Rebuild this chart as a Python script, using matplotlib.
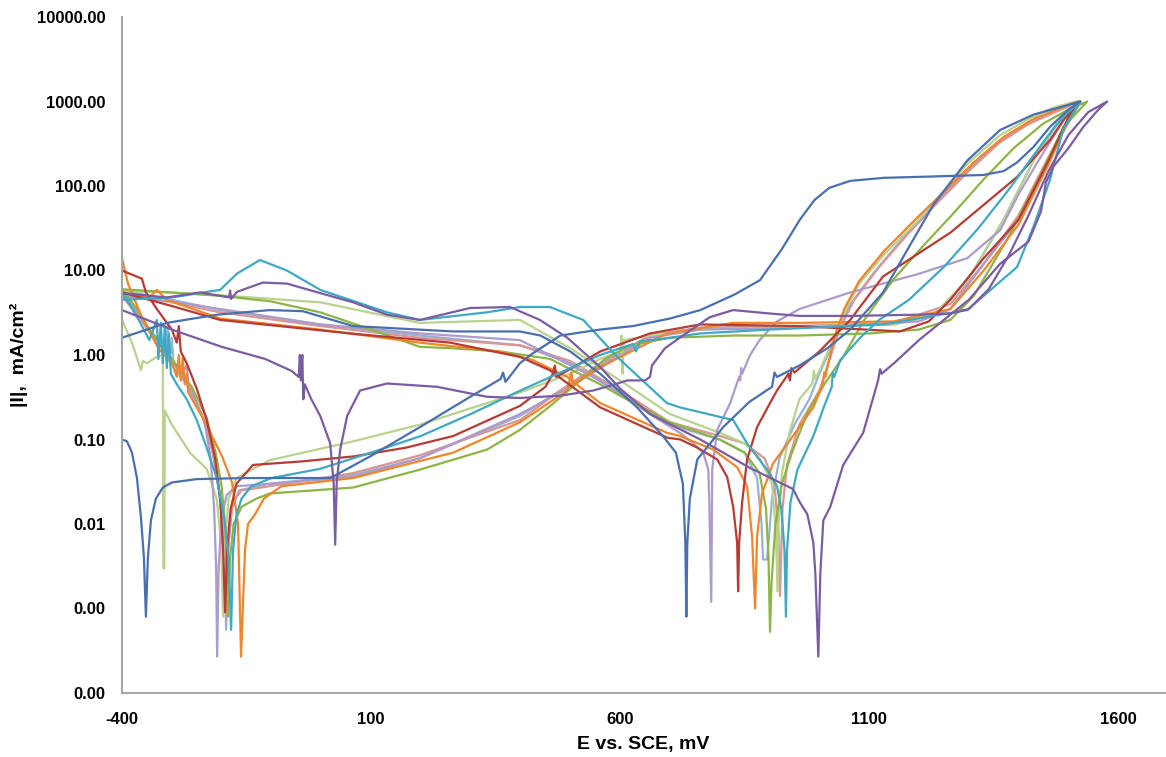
import matplotlib
matplotlib.use("Agg")
import matplotlib.pyplot as plt
from matplotlib.ticker import FixedLocator, FuncFormatter

plt.rcParams['font.family'] = ['Liberation Sans', 'DejaVu Sans']
plt.rcParams['axes.unicode_minus'] = False

# cyclic polarisation scans: (E mV vs SCE, |I| mA/cm2), forward then reverse
blue = [(-400, 0.1), (-390, 0.095), (-380, 0.07), (-370, 0.035), (-362, 0.012), (-356, 0.004), (-352, 0.0008),
        (-348, 0.004), (-342, 0.011), (-332, 0.02), (-318, 0.027), (-300, 0.031), (-250, 0.034), (-150, 0.035),
        (-50, 0.035), (18, 0.035), (98, 0.063), (198, 0.14), (299, 0.32), (360, 0.52), (365, 0.62), (370, 0.48),
        (399, 0.8), (425, 1.05), (480, 1.7), (560, 2.0), (626, 2.2), (700, 2.7), (761, 3.4), (830, 5.2),
        (881, 7.7), (925, 18), (961, 40), (990, 68), (1020, 95), (1062, 115), (1130, 125), (1196, 128),
        (1329, 135), (1370, 150), (1397, 190), (1430, 290), (1463, 500), (1500, 800), (1524, 1000),
        (1497, 900), (1430, 700), (1363, 460), (1297, 200), (1229, 60), (1170, 15), (1128, 5.5), (1062, 2.0),
        (1016, 1.2), (960, 0.75), (915, 0.55), (910, 0.62), (905, 0.42), (860, 0.28), (807, 0.14), (755, 0.058),
        (740, 0.02), (735, 0.006), (733, 0.0008), (731, 0.006), (726, 0.03), (712, 0.07), (686, 0.11),
        (634, 0.24), (560, 0.6), (500, 1.1), (440, 1.7), (399, 1.9), (265, 1.9), (64, 2.2), (-37, 3.3),
        (-103, 3.4), (-209, 3.0), (-310, 2.4), (-400, 1.6)]

purple = [(-400, 3.4), (-300, 2.0), (-200, 1.25), (-113, 0.9), (-60, 0.65), (-45, 0.55), (-43, 1.0), (-41, 0.5),
          (-38, 1.0), (-36, 0.3), (-33, 0.45), (-20, 0.3), (-2, 0.19), (18, 0.09), (25, 0.03), (28, 0.0057),
          (31, 0.03), (38, 0.076), (52, 0.19), (78, 0.38), (132, 0.46), (233, 0.42), (333, 0.32), (399, 0.31),
          (480, 0.33), (546, 0.38), (590, 0.45), (614, 0.5), (650, 0.5), (660, 0.55), (664, 0.75), (690, 1.2),
          (726, 1.7), (780, 2.8), (827, 3.4), (900, 3.1), (961, 2.9), (1062, 2.9), (1196, 3.0), (1263, 3.1),
          (1300, 3.5), (1340, 6), (1380, 15), (1420, 45), (1460, 150), (1500, 400), (1540, 750), (1578, 1000),
          (1560, 800), (1530, 500), (1500, 280), (1470, 170), (1455, 110), (1445, 50), (1420, 22), (1363, 12),
          (1300, 4.5), (1263, 3.0), (1200, 1.5), (1150, 0.8), (1125, 0.6), (1122, 0.68), (1118, 0.5),
          (1088, 0.12), (1048, 0.05), (1022, 0.016), (1008, 0.011), (1002, 0.0026), (998, 0.00027),
          (992, 0.0026), (988, 0.006), (976, 0.013), (961, 0.018), (947, 0.026), (861, 0.046), (761, 0.1),
          (660, 0.2), (600, 0.4), (560, 0.72), (494, 1.6), (439, 2.6), (379, 3.7), (299, 3.6), (198, 2.6),
          (132, 3.0), (64, 4.2), (-2, 5.4), (-69, 7.0), (-117, 7.2), (-169, 5.6), (-181, 4.6), (-183, 5.8),
          (-185, 4.8), (-243, 5.5), (-310, 4.8), (-400, 5.4)]

teal = [(-400, 5.5), (-385, 4.0), (-365, 2.5), (-345, 1.5), (-330, 2.6), (-327, 0.9), (-322, 2.4), (-318, 0.8),
        (-314, 2.2), (-310, 0.7), (-306, 1.8), (-302, 0.6), (-290, 0.45), (-270, 0.3), (-250, 0.17), (-230, 0.08),
        (-210, 0.035), (-195, 0.012), (-186, 0.004), (-181, 0.00056), (-177, 0.005), (-170, 0.013), (-160, 0.02),
        (-140, 0.028), (-100, 0.035), (-2, 0.045), (100, 0.07), (200, 0.11), (300, 0.2), (400, 0.38), (480, 0.62),
        (560, 1.0), (626, 1.35), (632, 1.1), (640, 1.45), (700, 1.6), (761, 1.8), (900, 2.0), (1128, 2.3),
        (1297, 3.4), (1397, 11), (1430, 33), (1463, 118), (1489, 460), (1524, 1000),
        (1500, 750), (1470, 480), (1430, 230), (1380, 90), (1320, 32), (1250, 11), (1180, 4.5), (1120, 2.6),
        (1082, 1.6), (1042, 0.87), (1030, 0.55), (1027, 0.62), (1025, 0.42), (1010, 0.25), (988, 0.11),
        (956, 0.044), (942, 0.018), (935, 0.0047), (933, 0.0008), (930, 0.005), (924, 0.015), (915, 0.028),
        (895, 0.044), (855, 0.09), (827, 0.17), (720, 0.24), (694, 0.27), (594, 0.95), (526, 2.6), (459, 3.7),
        (399, 3.7), (333, 3.2), (198, 2.6), (132, 3.2), (-2, 5.9), (-69, 10), (-123, 13.3), (-169, 9.2),
        (-203, 5.9), (-300, 4.8), (-400, 4.5)]

red = [(-400, 10), (-360, 8.0), (-352, 5.5), (-330, 3.5), (-300, 2.0), (-290, 1.4), (-286, 2.2), (-282, 1.1),
       (-270, 0.8), (-250, 0.4), (-230, 0.17), (-213, 0.06), (-203, 0.02), (-197, 0.005), (-193, 0.0009),
       (-189, 0.005), (-182, 0.015), (-170, 0.03), (-137, 0.05), (-40, 0.055), (64, 0.063), (170, 0.08),
       (265, 0.11), (399, 0.25), (450, 0.42), (465, 0.6), (469, 0.75), (472, 0.55), (520, 0.8), (560, 1.1),
       (660, 1.8), (761, 2.3), (961, 2.2), (1162, 1.9), (1220, 2.5), (1263, 4.5), (1330, 14), (1400, 40),
       (1460, 200), (1500, 650), (1520, 1000),
       (1490, 600), (1463, 350), (1397, 128), (1263, 28), (1128, 8.5), (1062, 2.6), (1000, 1.1), (950, 0.62),
       (944, 0.7), (941, 0.5), (938, 0.6), (915, 0.38), (901, 0.27), (875, 0.14), (855, 0.058), (845, 0.018),
       (839, 0.006), (837, 0.0016), (835, 0.006), (827, 0.016), (815, 0.036), (795, 0.058), (755, 0.08),
       (721, 0.1), (695, 0.105), (560, 0.24), (459, 0.66), (399, 0.95), (259, 1.4), (58, 1.8), (-203, 2.6),
       (-300, 3.8), (-400, 5.5)]

orange = [(-400, 14), (-388, 7), (-360, 2.8), (-327, 1.2), (-300, 0.8), (-290, 0.55), (-286, 1.0), (-282, 0.5),
          (-278, 0.95), (-274, 0.45), (-270, 0.6), (-267, 0.36), (-233, 0.16), (-199, 0.063), (-179, 0.031),
          (-167, 0.01), (-161, 0.00027), (-153, 0.005), (-147, 0.01), (-133, 0.013), (-115, 0.02), (-80, 0.028),
          (64, 0.035), (265, 0.07), (399, 0.16), (494, 0.38), (502, 0.62), (506, 0.45), (560, 0.72), (694, 1.8),
          (827, 2.4), (961, 2.4), (1150, 2.5), (1263, 3.5), (1330, 10), (1400, 35), (1460, 180), (1500, 600),
          (1520, 1000),
          (1480, 820), (1430, 620), (1370, 380), (1310, 190), (1250, 85), (1196, 42), (1130, 17), (1080, 7.5),
          (1050, 3.5), (1030, 1.6), (1018, 0.8), (1012, 0.55), (1010, 0.62), (1007, 0.45), (988, 0.24),
          (956, 0.13), (907, 0.052), (885, 0.023), (875, 0.0071), (871, 0.001), (865, 0.007), (855, 0.028),
          (835, 0.047), (787, 0.076), (720, 0.11), (694, 0.12), (560, 0.27), (494, 0.55), (425, 0.87),
          (359, 1.1), (198, 1.4), (-2, 2.0), (-203, 2.7), (-310, 4.5), (-330, 5.9), (-345, 4.8), (-400, 5.5)]

green = [(-400, 6), (-370, 3.5), (-340, 1.8), (-300, 0.9), (-260, 0.42), (-230, 0.18), (-212, 0.07), (-200, 0.028),
         (-192, 0.008), (-187, 0.0008), (-183, 0.004), (-176, 0.01), (-160, 0.016), (-130, 0.02), (-103, 0.023),
         (64, 0.027), (198, 0.044), (333, 0.076), (399, 0.13), (460, 0.25), (520, 0.5), (570, 0.9), (620, 1.3),
         (700, 1.6), (827, 1.7), (961, 1.7), (1100, 1.8), (1200, 2.0), (1263, 2.6), (1310, 5), (1380, 25),
         (1440, 120), (1490, 500), (1538, 1000),
         (1500, 800), (1450, 550), (1390, 280), (1330, 120), (1270, 48), (1210, 20), (1150, 8), (1090, 2.6),
         (1050, 1.0), (1010, 0.45), (975, 0.2), (945, 0.07), (925, 0.03), (912, 0.01), (904, 0.002),
         (901, 0.00053), (898, 0.004), (893, 0.015), (880, 0.04), (850, 0.07), (800, 0.1), (700, 0.16),
         (600, 0.33), (560, 0.45), (459, 0.9), (359, 1.1), (265, 1.2), (198, 1.25), (100, 2.0), (-2, 3.2),
         (-100, 4.3), (-200, 5.0), (-300, 5.5), (-400, 6.0)]

light_green = [(-400, 2.6), (-380, 1.4), (-362, 0.66), (-358, 0.85), (-350, 0.8), (-330, 0.95), (-318, 1.0),
               (-317, 0.003), (-315, 0.003), (-314, 0.22), (-300, 0.15), (-263, 0.069), (-230, 0.045),
               (-210, 0.02), (-201, 0.006), (-197, 0.0008), (-193, 0.006), (-186, 0.02), (-170, 0.035),
               (-103, 0.057), (64, 0.095), (198, 0.15), (399, 0.36), (500, 0.6), (560, 0.9), (600, 1.1),
               (603, 1.7), (605, 0.6), (607, 1.5), (660, 1.7), (761, 2.0), (1000, 2.2), (1150, 2.3), (1230, 3.0),
               (1300, 8), (1370, 40), (1430, 200), (1480, 600), (1515, 1000),
               (1470, 850), (1420, 620), (1363, 400), (1300, 190), (1240, 75), (1196, 38), (1128, 15),
               (1080, 7), (1050, 3.2), (1025, 1.4), (1005, 0.75), (992, 0.52), (989, 0.65), (986, 0.46),
               (960, 0.3), (940, 0.12), (925, 0.04), (918, 0.01), (916, 0.0016), (913, 0.008), (905, 0.03),
               (880, 0.06), (850, 0.09), (800, 0.12), (700, 0.2), (600, 0.5), (500, 1.2), (399, 2.6),
               (198, 2.4), (-2, 4.2), (-203, 5.1), (-310, 5.5), (-400, 5.7)]

lavender = [(-400, 5.5), (-370, 3.2), (-340, 1.8), (-300, 0.9), (-280, 0.6), (-270, 0.75), (-266, 0.4),
            (-260, 0.35), (-235, 0.17), (-222, 0.06), (-215, 0.015), (-211, 0.003), (-209, 0.00027),
            (-206, 0.003), (-200, 0.012), (-190, 0.022), (-170, 0.028), (-100, 0.03), (64, 0.036), (198, 0.06),
            (399, 0.2), (500, 0.42), (560, 0.7), (660, 1.6), (761, 2.0), (961, 2.1), (1100, 2.3), (1200, 2.5),
            (1263, 3.5), (1330, 12), (1400, 40), (1460, 200), (1500, 600), (1520, 1000),
            (1490, 600), (1440, 200), (1400, 80), (1363, 30), (1297, 14), (1196, 9), (1062, 5.5), (960, 3.5),
            (915, 2.5), (880, 1.5), (861, 1.0), (845, 0.6), (843, 0.7), (841, 0.5), (839, 0.55), (821, 0.27),
            (795, 0.13), (785, 0.044), (783, 0.0012), (779, 0.02), (777, 0.044), (767, 0.07), (747, 0.09),
            (720, 0.12), (660, 0.2), (560, 0.5), (459, 1.0), (399, 1.5), (198, 1.8), (-2, 2.3), (-203, 3.5),
            (-300, 4.3), (-400, 5.0)]

pink = [(-400, 5.0), (-370, 3.0), (-340, 1.7), (-300, 0.85), (-260, 0.38), (-232, 0.15), (-215, 0.06),
        (-203, 0.02), (-195, 0.006), (-190, 0.0008), (-186, 0.006), (-178, 0.018), (-160, 0.025), (-103, 0.028),
        (64, 0.04), (198, 0.065), (399, 0.17), (480, 0.38), (560, 0.8), (660, 1.7), (761, 2.1), (961, 2.2),
        (1150, 2.4), (1263, 4), (1330, 12), (1400, 45), (1460, 220), (1510, 700), (1525, 1000),
        (1480, 780), (1420, 540), (1360, 320), (1300, 150), (1240, 66), (1180, 28), (1120, 11), (1070, 4.5),
        (1040, 2.0), (1015, 0.7), (1000, 0.38), (960, 0.15), (935, 0.05), (926, 0.015), (921, 0.0014),
        (918, 0.008), (910, 0.03), (890, 0.06), (850, 0.09), (800, 0.11), (700, 0.16), (600, 0.38),
        (500, 0.85), (400, 1.3), (198, 1.6), (-2, 2.2), (-203, 3.2), (-300, 4.2), (-400, 5.2)]

light_blue = [(-400, 5.8), (-375, 3.6), (-345, 2.0), (-312, 1.2), (-308, 2.2), (-304, 0.9), (-300, 1.6),
              (-296, 0.7), (-270, 0.45), (-240, 0.2), (-220, 0.08), (-205, 0.025), (-196, 0.007),
              (-191, 0.00056), (-187, 0.005), (-180, 0.015), (-165, 0.025), (-103, 0.03), (64, 0.038),
              (198, 0.06), (399, 0.19), (560, 0.75), (660, 1.7), (761, 2.1), (961, 2.2), (1150, 2.3), (1230, 3),
              (1300, 8), (1370, 40), (1430, 200), (1490, 700), (1520, 1000),
              (1480, 800), (1420, 570), (1350, 300), (1290, 140), (1230, 60), (1170, 25), (1110, 9.5),
              (1060, 3.8), (1030, 1.5), (1000, 0.6), (980, 0.3), (950, 0.15), (920, 0.06), (905, 0.02),
              (898, 0.006), (895, 0.0038), (887, 0.0038), (884, 0.01), (875, 0.035), (850, 0.07), (800, 0.1),
              (700, 0.15), (600, 0.35), (500, 0.8), (400, 1.3), (198, 1.7), (-2, 2.3), (-203, 3.4), (-300, 4.5),
              (-400, 5.8)]

series = [
    (light_blue, '#95B3D7'),
    (pink, '#D99694'),
    (light_green, '#B9D28E'),
    (lavender, '#AC9BCB'),
    (green, '#8DB544'),
    (orange, '#F0862A'),
    (red, '#B83A34'),
    (teal, '#3FA9C4'),
    (purple, '#7B5CA3'),
    (blue, '#4A6FB0'),
]

x_ticks = [-400, 100, 600, 1100, 1600]
y_ticks = [1e-4, 1e-3, 1e-2, 1e-1, 1, 10, 100, 1000, 10000]

fig = plt.figure(figsize=(11.66, 7.57), dpi=100)
ax = fig.add_axes([122 / 1166, 1 - 693 / 757, (1165 - 122) / 1166, (693 - 17) / 757])

for pts, col in series:
    e = [p[0] for p in pts]
    i = [p[1] for p in pts]
    ax.plot(e, i, color=col, lw=1.6, solid_joinstyle='round')

ax.set_yscale('log')
ax.set_xlim(-400, 1694)
ax.set_ylim(1e-4, 1e4)
ax.xaxis.set_major_locator(FixedLocator(x_ticks))
ax.yaxis.set_major_locator(FixedLocator(y_ticks))
ax.yaxis.set_minor_locator(FixedLocator([]))
ax.yaxis.set_major_formatter(FuncFormatter(lambda v, p: '%.2f' % v))
ax.tick_params(axis='y', length=0, labelsize=12, pad=12)
ax.tick_params(axis='x', length=0, labelsize=12, pad=14)
for lab in ax.get_xticklabels() + ax.get_yticklabels():
    lab.set_fontweight('bold')

for s in ['top', 'right']:
    ax.spines[s].set_visible(False)
for s in ['left', 'bottom']:
    ax.spines[s].set_color('#A6A6A6')
    ax.spines[s].set_linewidth(1.5)

ax.set_xlabel('E vs. SCE, mV', fontsize=14, fontweight='bold', labelpad=6)
ax.set_ylabel('|I|,  mA/cm²', fontsize=14, fontweight='bold', labelpad=6)

fig.savefig('out.png', dpi=100)
